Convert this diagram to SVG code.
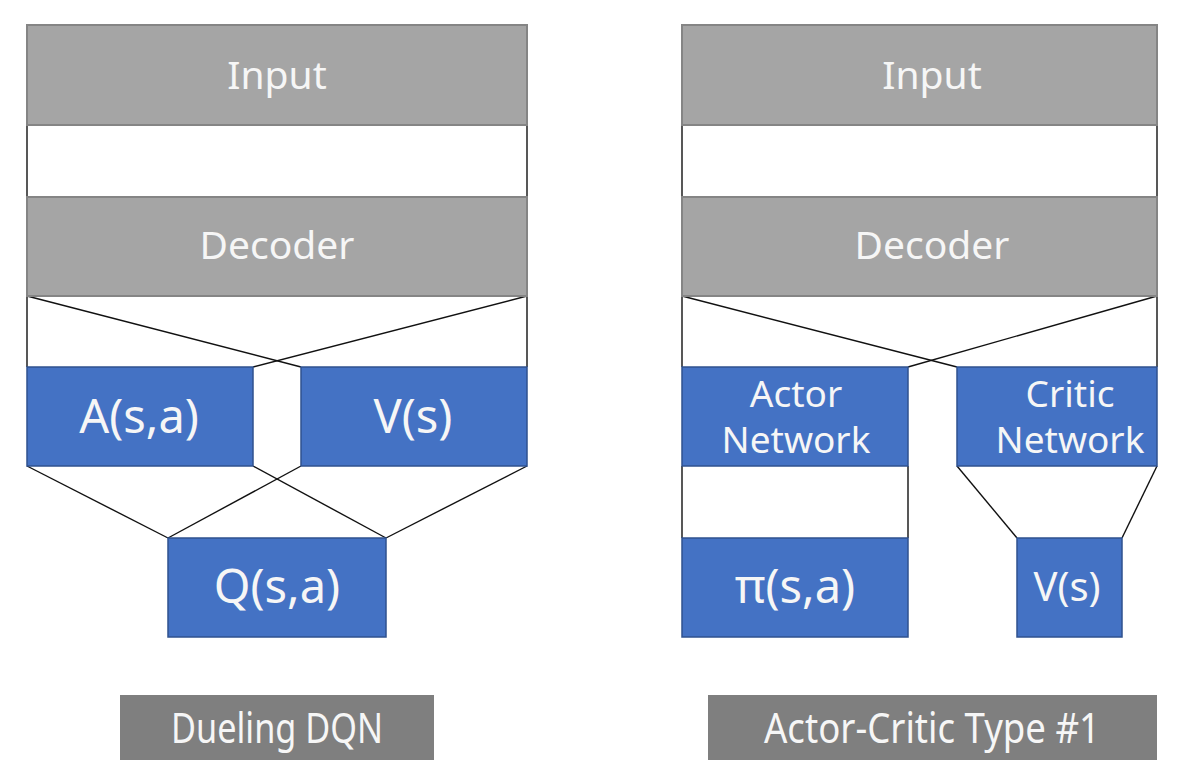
<svg xmlns="http://www.w3.org/2000/svg" width="1204" height="770" viewBox="0 0 1204 770">
<style>
.g{fill:#a5a5a5;stroke:#858585;stroke-width:2}
.b{fill:#4472c4;stroke:#2f528f;stroke-width:1.5}
.lb{fill:#7f7f7f}
.t{font-family:"Noto Sans","DejaVu Sans",sans-serif;fill:#f6f6f6;text-anchor:middle}
.c line{stroke:#111;stroke-width:1.4}
</style>
<rect width="1204" height="770" fill="#fff"/>
<g class="c" id="connectors">
<line x1="27" y1="125" x2="27" y2="197"/><line x1="527" y1="125" x2="527" y2="197"/>
<line x1="27" y1="296" x2="27" y2="367"/><line x1="527" y1="296" x2="527" y2="367"/>
<line x1="27" y1="296" x2="301" y2="367"/><line x1="527" y1="296" x2="253" y2="367"/>
<line x1="27" y1="466" x2="168" y2="538"/><line x1="253" y1="466" x2="386" y2="538"/>
<line x1="301" y1="466" x2="168" y2="538"/><line x1="527" y1="466" x2="386" y2="538"/>
<line x1="682" y1="125" x2="682" y2="197"/><line x1="1157" y1="125" x2="1157" y2="197"/>
<line x1="682" y1="296" x2="682" y2="367"/><line x1="1157" y1="296" x2="1157" y2="367"/>
<line x1="682" y1="296" x2="957" y2="367"/><line x1="1157" y1="296" x2="908" y2="367"/>
<line x1="682" y1="466" x2="682" y2="538"/><line x1="908" y1="466" x2="908" y2="538"/>
<line x1="957" y1="466" x2="1017" y2="538"/><line x1="1157" y1="466" x2="1122" y2="538"/>
</g>
<g id="input-left"><rect class="g" x="27" y="25" width="500" height="100"/><text class="t" x="277" y="89" font-size="39">Input</text></g>
<g id="decoder-left"><rect class="g" x="27" y="197" width="500" height="99"/><text class="t" x="277" y="259" font-size="39">Decoder</text></g>
<g id="advantage"><rect class="b" x="27" y="367" width="226" height="99"/><text class="t" x="139" y="433" font-size="47">A(s,a)</text></g>
<g id="value-left"><rect class="b" x="301" y="367" width="226" height="99"/><text class="t" x="413" y="433" font-size="47">V(s)</text></g>
<g id="q"><rect class="b" x="168" y="538" width="218" height="99"/><text class="t" x="277" y="603" font-size="47">Q(s,a)</text></g>
<g id="label-left"><rect class="lb" x="120" y="695" width="314" height="65"/><text class="t" x="277" y="743" font-size="41" textLength="212" lengthAdjust="spacingAndGlyphs">Dueling DQN</text></g>
<g id="input-right"><rect class="g" x="682" y="25" width="475" height="100"/><text class="t" x="932" y="89" font-size="39">Input</text></g>
<g id="decoder-right"><rect class="g" x="682" y="197" width="475" height="99"/><text class="t" x="932" y="259" font-size="39">Decoder</text></g>
<g id="actor"><rect class="b" x="682" y="367" width="226" height="99"/><text class="t" x="796" y="407" font-size="37">Actor</text><text class="t" x="796" y="453" font-size="37">Network</text></g>
<g id="critic"><rect class="b" x="957" y="367" width="200" height="99"/><text class="t" x="1070" y="407" font-size="37">Critic</text><text class="t" x="1070" y="453" font-size="37">Network</text></g>
<g id="policy"><rect class="b" x="682" y="538" width="226" height="99"/><text class="t" x="795" y="603" font-size="47">π(s,a)</text></g>
<g id="value-right"><rect class="b" x="1017" y="538" width="105" height="99"/><text class="t" x="1067" y="601" font-size="40">V(s)</text></g>
<g id="label-right"><rect class="lb" x="708" y="695" width="449" height="65"/><text class="t" x="932" y="743" font-size="41" textLength="336" lengthAdjust="spacingAndGlyphs">Actor-Critic Type #1</text></g>
</svg>
